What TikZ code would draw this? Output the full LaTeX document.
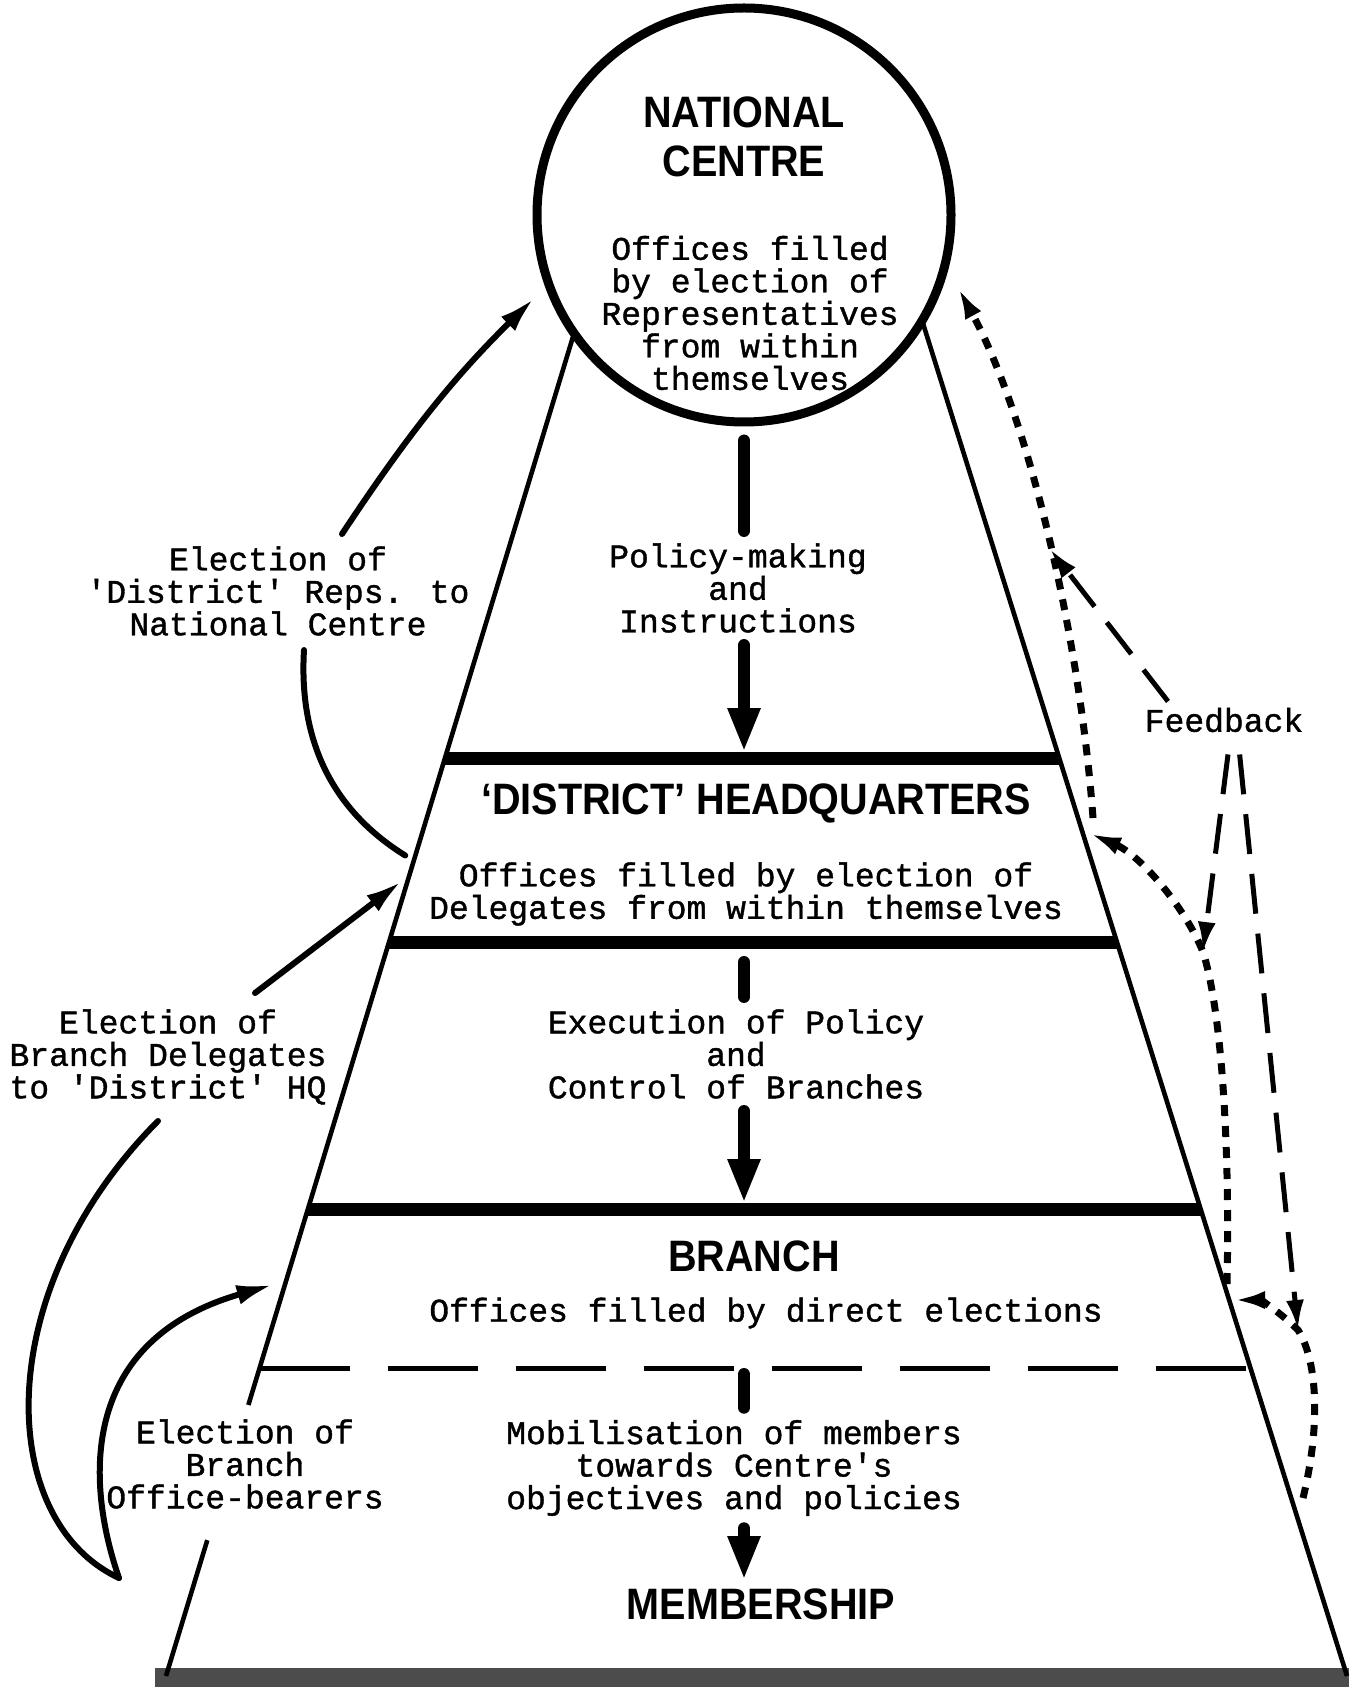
\documentclass[tikz,border=0pt]{standalone}
\usepackage{fontspec}
\usetikzlibrary{arrows.meta,calc}
\newfontfamily\tw[FakeBold=1.2]{Liberation Mono}
\newfontfamily\hd[FakeStretch=0.9]{Liberation Sans}
\newcommand{\sq}{\textquotesingle}
\tikzset{
	hub/.style={draw, circle, line width=4.5pt, fill=white, minimum size=207pt, inner sep=0pt},
	ranktitle/.style={font=\hd\bfseries\fontsize{22}{24.5}\selectfont, align=center, inner sep=1pt},
	typed/.style={font=\tw\fontsize{16.5}{16.25}\selectfont, align=center, inner sep=3pt},
	edgeline/.style={line width=2.3pt},
	bar/.style={line width=6.5pt},
	splitline/.style={line width=2.5pt, dash pattern=on 45pt off 19pt},
	shaft/.style={line width=6pt, line cap=round, shorten <=3pt, shorten >=3pt},
	shafttip/.style={shaft, -{Triangle[length=22pt,width=15pt]}},
	elect/.style={line width=3pt, line cap=round, -{Latex[length=18pt,width=10pt]}},
	eltail/.style={line width=3pt, line cap=round},
	fbdot/.style={line width=3.5pt, dash pattern=on 5.5pt off 5pt, -{Latex[length=16pt,width=9pt]}},
	fbdash/.style={line width=2.5pt, dash pattern=on 20pt off 10pt, -{Latex[length=15pt,width=9pt]}}
}

\begin{document}
\begin{tikzpicture}[x=0.5pt, y=-0.5pt]
	\useasboundingbox (0,0) rectangle (1360,1689);
	% pyramid
	\coordinate (TL) at (610,215);
	\coordinate (BL) at (166,1676);
	\coordinate (TR) at (889,215);
	\coordinate (BR) at (1347,1676);
	\foreach \t/\n in {0.3717/1, 0.4976/2, 0.6804/3, 0.7892/4}{
		\coordinate (l\n) at ($(TL)!\t!(BL)$);
		\coordinate (r\n) at ($(TR)!\t!(BR)$);
	}
	\coordinate (dhqout) at ($(TL)!0.442!(BL)$);
	\coordinate (dhqin) at ($(TL)!0.452!(BL)$);
	\coordinate (brin) at ($(TL)!0.7296!(BL)$);
	\coordinate (gapa) at ($(TL)!0.8145!(BL)$);
	\coordinate (gapb) at ($(TL)!0.907!(BL)$);
	\coordinate (dhqfb) at ($(TR)!0.421!(BR)$);
	\coordinate (brfb) at ($(TR)!0.7426!(BR)$);
	\coordinate (loop) at (119,1578);
	\coordinate (f1a) at (1093,818);
	\coordinate (f2tip) at (1050,549);
	\coordinate (f3a) at (1227,1284);
	\coordinate (f3k) at (1203,952);
	\coordinate (f5a) at (1303,1498);
	\coordinate (f5k) at (1298,1330);

	\fill[black!70] (155,1668) rectangle (1349,1687);
	\draw[edgeline] (TL) -- (gapa);
	\draw[edgeline] (gapb) -- (BL);
	\draw[edgeline] (TR) -- (BR);
	\node[hub] (nc) at (744,215) {};

	\node[ranktitle] (nctitle) at (744,137) {NATIONAL\\CENTRE};
	\node[typed] (ncbody) at (750,313) {Offices filled\\by election of\\Representatives\\from within\\themselves};
	\node[typed] (policy) at (738,588) {Policy-making\\and\\Instructions};
	\node[ranktitle] (dhq) at (756,803) {‘DISTRICT’ HEADQUARTERS};
	\node[typed] (dhqbody) at (746,894) {Offices filled by election of\\Delegates from within themselves};
	\node[typed] (exec) at (736,1054) {Execution of Policy\\and\\Control of Branches};
	\node[ranktitle] (branch) at (754,1256) {BRANCH};
	\node[typed] (brbody) at (766,1313) {Offices filled by direct elections};
	\node[typed] (mob) at (734,1468) {Mobilisation of members\\towards Centre\sq s\\objectives and policies};
	\node[ranktitle] (member) at (761,1604) {MEMBERSHIP};
	\node[typed] (lblA) at (278,591) {Election of\\\sq District\sq{} Reps. to\\National Centre};
	\node[typed] (lblB) at (168,1057) {Election of\\Branch Delegates\\to \sq District\sq{} HQ};
	\node[typed] (lblC) at (245,1464) {Election of\\Branch\\Office-bearers};
	\node[typed] (fb) at (1224,720) {Feedback};

	\draw[shaft] ($(nc.south)+(0,8)$) -- (nc.south |- policy.north);
	\draw[shafttip] (nc.south |- policy.south) -- (nc.south |- l1);
	\draw[shaft] ($(nc.south |- l2)+(0,14)$) -- (nc.south |- exec.north);
	\draw[shafttip] (nc.south |- exec.south) -- (nc.south |- l3);
	\draw[shaft] (nc.south |- l4) -- (nc.south |- mob.north);
	\draw[shafttip] (nc.south |- mob.south) -- (nc.south |- member.north);

	\foreach \n in {1,2,3}
		\draw[bar] (l\n) -- (r\n);
	\draw[splitline] (l4) -- (r4);

	% elections
	\draw[elect, shorten >=8pt] ($(lblA.north)+(64,-6)$) to[bend left=6] (nc.200);
	\draw[eltail, shorten >=5pt] ($(lblA.south)+(26,8)$) .. controls (298,750) and (340,815) .. (dhqout);
	\draw[elect, shorten >=5pt] ($(lblB.north)+(87,-10)$) -- (dhqin);
	\draw[eltail] ($(lblB.south)+(-10,10)$) .. controls (-10,1290) and (-5,1520) .. (loop);
	\draw[elect, shorten >=7pt] (loop) .. controls (85,1480) and (80,1340) .. (brin);

	% feedback
	\draw[fbdot, shorten >=10pt] (f1a) .. controls (1080,640) and (1030,420) .. (nc.345);
	\draw[fbdot, shorten >=4pt] (f3a) .. controls (1230,1150) and (1222,1012) .. (f3k) .. controls (1185,907) and (1140,855) .. (dhqfb);
	\draw[fbdot, shorten >=2pt] (f5a) .. controls (1322,1420) and (1316,1358) .. (f5k) .. controls (1280,1312) and (1260,1300) .. (brfb);
	\draw[fbdash] ([xshift=-28pt]fb.north) -- (f2tip);
	\draw[fbdash, shorten <=8pt] ([xshift=3pt]fb.south) -- (f3k);
	\draw[fbdash, shorten <=8pt] ([xshift=7pt]fb.south) -- (f5k);
\end{tikzpicture}
\end{document}
